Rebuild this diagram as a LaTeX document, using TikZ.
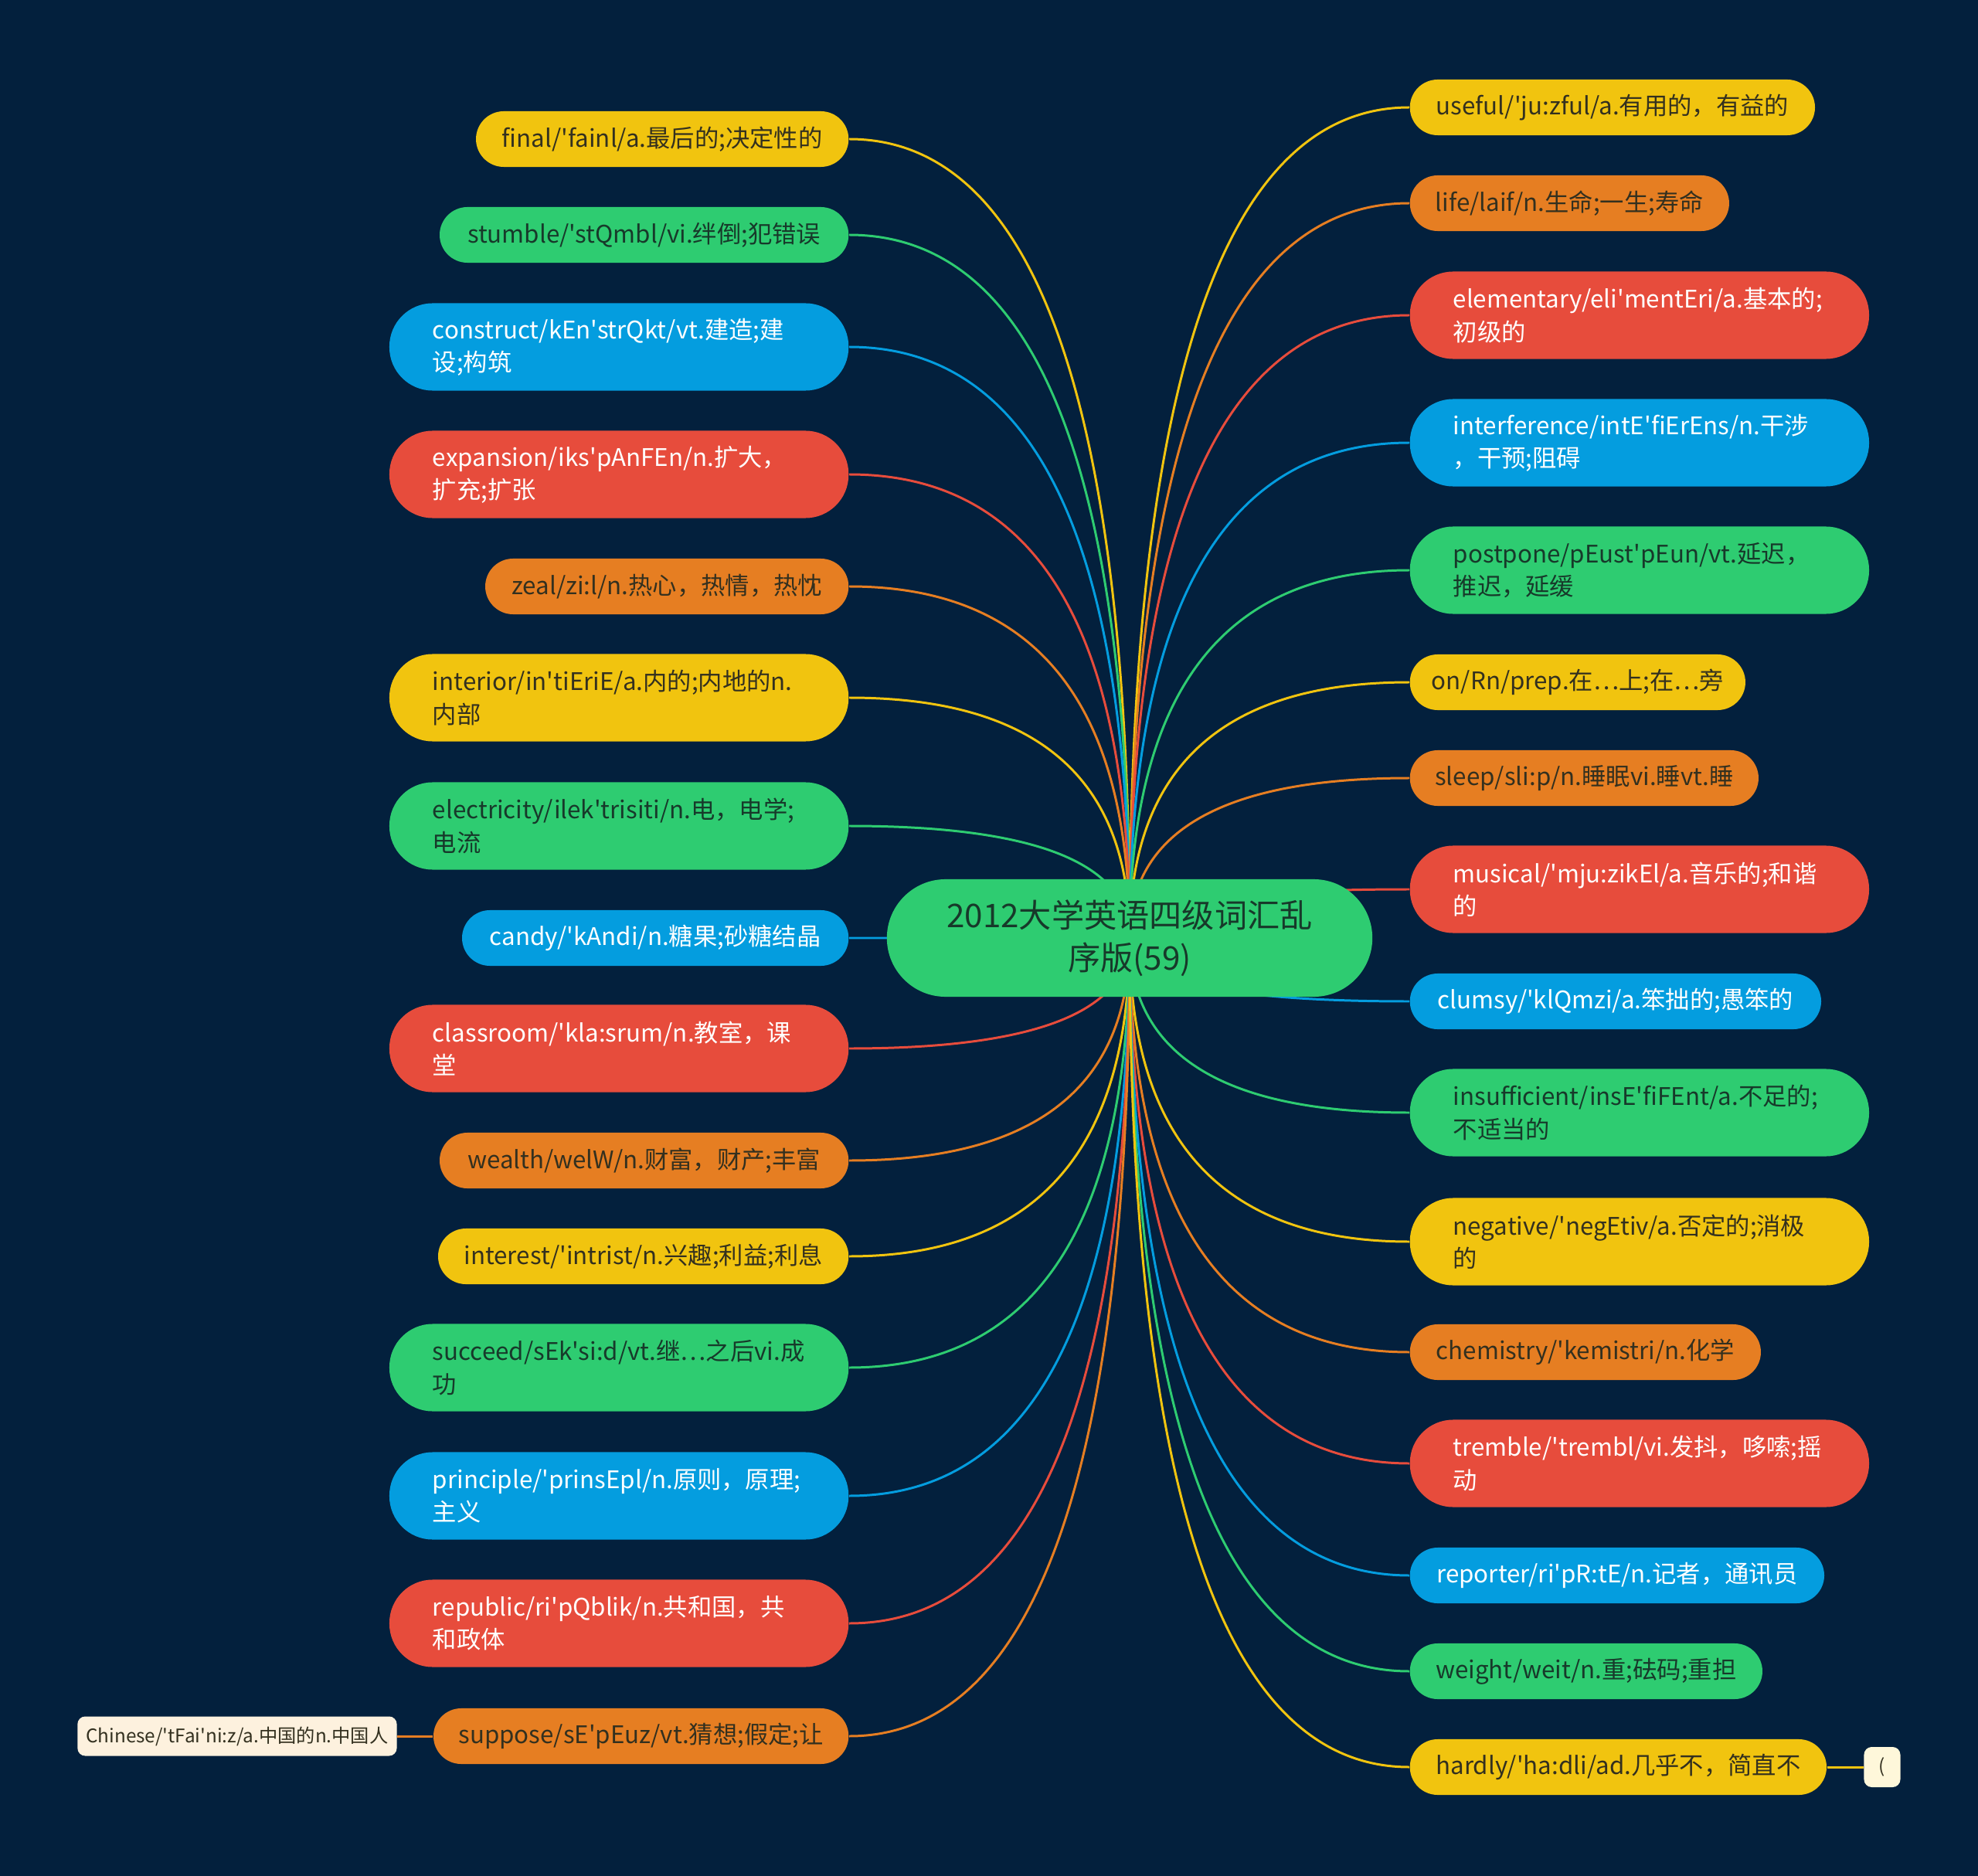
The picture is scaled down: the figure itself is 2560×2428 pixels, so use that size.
\documentclass[tikz,border=0pt]{standalone}
\usepackage{fontspec}
\setmainfont{Noto Sans CJK SC}[Ligatures=TeXOff]
\usepackage{tikz}
\usetikzlibrary{positioning,calc}
\pgfdeclarelayer{bg}
\pgfdeclarelayer{lines}
\pgfsetlayers{bg,lines,main}
\definecolor{bgnavy}{HTML}{03203D}
\definecolor{cyel}{HTML}{F1C40F}
\definecolor{cgrn}{HTML}{2ECC71}
\definecolor{cblu}{HTML}{049DDF}
\definecolor{cred}{HTML}{E74C3C}
\definecolor{corg}{HTML}{E67E22}
\definecolor{ccream}{HTML}{FDF1DE}
\definecolor{clight}{HTML}{FEF7DA}
\definecolor{tdark}{HTML}{33301F}
\definecolor{tgreen}{HTML}{17392A}
\tikzstyle{root}=[rectangle,rounded corners=0.76cm,fill=cgrn,text=tgreen,minimum width=6.28cm,minimum height=1.52cm,align=center,font=\fontsize{12}{15.8}\selectfont]
\tikzstyle{leaf}=[rectangle,rounded corners=0.36cm,minimum height=0.72cm,inner xsep=0.25cm,inner ysep=0pt,font=\fontsize{8.9}{12}\selectfont]
\tikzstyle{longleaf}=[leaf,rounded corners=0.56cm,minimum height=1.13cm,inner xsep=0.56cm,text width=4.82cm,align=left]
\tikzstyle{tag}=[rectangle,rounded corners=0.1cm,minimum height=0.51cm,inner xsep=0.08cm,inner ysep=0pt,text=tdark,font=\fontsize{6.9}{9}\selectfont]
\tikzstyle{ylw}=[fill=cyel,text=tdark]
\tikzstyle{grn}=[fill=cgrn,text=tgreen]
\tikzstyle{blu}=[fill=cblu,text=white]
\tikzstyle{rd}=[fill=cred,text=white]
\tikzstyle{org}=[fill=corg,text=tdark]
\tikzstyle{edge}=[draw,line width=0.85pt]
% curve from the centre of the root, vertical first, then level into the word
\newcommand{\twig}[3]{\draw[edge,#1] (#2) .. controls ($(#2)!2/3!(#2 |- #3)$) and ($(#3)!2/3!(#2 |- #3)$) .. (#3);}

\begin{document}
\begin{tikzpicture}[x=0.01cm,y=-0.01cm]
  \begin{pgfonlayer}{bg}
    \fill[bgnavy] (0,0) rectangle (2560,2428);
  \end{pgfonlayer}
  \useasboundingbox (0,0) rectangle (2560,2428);

  \node[root] (root) at (1462,1214) {2012大学英语四级词汇乱\\序版(59)};

  % left side
  \node[leaf,ylw,anchor=east,minimum width=4.82cm] (final) at (1099,180) {final/'fainl/a.最后的;决定性的};
  \node[leaf,grn,anchor=east,minimum width=5.29cm] (stumble) at (1099,304) {stumble/'stQmbl/vi.绊倒;犯错误};
  \node[longleaf,blu,anchor=east] (construct) at (1099,449) {construct/kEn'strQkt/vt.建造;建\\设;构筑};
  \node[longleaf,rd,anchor=east] (expansion) at (1099,614) {expansion/iks'pAnFEn/n.扩大，\\扩充;扩张};
  \node[leaf,org,anchor=east,minimum width=4.70cm] (zeal) at (1099,759) {zeal/zi:l/n.热心，热情，热忱};
  \node[longleaf,ylw,anchor=east] (interior) at (1099,903) {interior/in'tiEriE/a.内的;内地的n.\\内部};
  \node[longleaf,grn,anchor=east] (electricity) at (1099,1069) {electricity/ilek'trisiti/n.电，电学;\\电流};
  \node[leaf,blu,anchor=east,minimum width=5.00cm] (candy) at (1099,1214) {candy/'kAndi/n.糖果;砂糖结晶};
  \node[longleaf,rd,anchor=east] (classroom) at (1099,1357) {classroom/'kla:srum/n.教室，课\\堂};
  \node[leaf,org,anchor=east,minimum width=5.29cm] (wealth) at (1099,1502) {wealth/welW/n.财富，财产;丰富};
  \node[leaf,ylw,anchor=east,minimum width=5.31cm] (interest) at (1099,1626) {interest/'intrist/n.兴趣;利益;利息};
  \node[longleaf,grn,anchor=east] (succeed) at (1099,1770) {succeed/sEk'si:d/vt.继…之后vi.成\\功};
  \node[longleaf,blu,anchor=east] (principle) at (1099,1936) {principle/'prinsEpl/n.原则，原理;\\主义};
  \node[longleaf,rd,anchor=east] (republic) at (1099,2101) {republic/ri'pQblik/n.共和国，共\\和政体};
  \node[leaf,org,anchor=east,minimum width=5.37cm] (suppose) at (1099,2247) {suppose/sE'pEuz/vt.猜想;假定;让};
  \node[tag,fill=ccream,minimum width=4.13cm,left=0.46cm of suppose] (chinese) {Chinese/'tFai'ni:z/a.中国的n.中国人};

  % right side
  \node[leaf,ylw,anchor=west,minimum width=5.24cm] (useful) at (1824,139) {useful/'ju:zful/a.有用的，有益的};
  \node[leaf,org,anchor=west,minimum width=4.13cm] (life) at (1824,263) {life/laif/n.生命;一生;寿命};
  \node[longleaf,rd,anchor=west] (elementary) at (1824,408) {elementary/eli'mentEri/a.基本的;\\初级的};
  \node[longleaf,blu,anchor=west] (interference) at (1824,573) {interference/intE'fiErEns/n.干涉\\，干预;阻碍};
  \node[longleaf,grn,anchor=west] (postpone) at (1824,738) {postpone/pEust'pEun/vt.延迟，\\推迟，延缓};
  \node[leaf,ylw,anchor=west,minimum width=4.34cm] (on) at (1824,883) {on/Rn/prep.在…上;在…旁};
  \node[leaf,org,anchor=west,minimum width=4.51cm] (sleep) at (1824,1007) {sleep/sli:p/n.睡眠vi.睡vt.睡};
  \node[longleaf,rd,anchor=west] (musical) at (1824,1151) {musical/'mju:zikEl/a.音乐的;和谐\\的};
  \node[leaf,blu,anchor=west,minimum width=5.32cm] (clumsy) at (1824,1296) {clumsy/'klQmzi/a.笨拙的;愚笨的};
  \node[longleaf,grn,anchor=west] (insufficient) at (1824,1440) {insufficient/insE'fiFEnt/a.不足的;\\不适当的};
  \node[longleaf,ylw,anchor=west] (negative) at (1824,1607) {negative/'negEtiv/a.否定的;消极\\的};
  \node[leaf,org,anchor=west,minimum width=4.54cm] (chemistry) at (1824,1750) {chemistry/'kemistri/n.化学};
  \node[longleaf,rd,anchor=west] (tremble) at (1824,1894) {tremble/'trembl/vi.发抖，哆嗦;摇\\动};
  \node[leaf,blu,anchor=west,minimum width=5.36cm] (reporter) at (1824,2039) {reporter/ri'pR:tE/n.记者，通讯员};
  \node[leaf,grn,anchor=west,minimum width=4.56cm] (weight) at (1824,2163) {weight/weit/n.重;砝码;重担};
  \node[leaf,ylw,anchor=west,minimum width=5.39cm] (hardly) at (1824,2287) {hardly/'ha:dli/ad.几乎不，简直不};
  \node[tag,fill=clight,minimum width=0.47cm,minimum height=0.52cm,right=0.47cm of hardly] (paren) {(};

  \begin{pgfonlayer}{lines}
    \twig{cyel}{root.center}{final.east}
    \twig{cgrn}{root.center}{stumble.east}
    \twig{cblu}{root.center}{construct.east}
    \twig{cred}{root.center}{expansion.east}
    \twig{corg}{root.center}{zeal.east}
    \twig{cyel}{root.center}{interior.east}
    \twig{cgrn}{root.center}{electricity.east}
    \twig{cblu}{root.center}{candy.east}
    \twig{cred}{root.center}{classroom.east}
    \twig{corg}{root.center}{wealth.east}
    \twig{cyel}{root.center}{interest.east}
    \twig{cgrn}{root.center}{succeed.east}
    \twig{cblu}{root.center}{principle.east}
    \twig{cred}{root.center}{republic.east}
    \twig{corg}{root.center}{suppose.east}
    \twig{cyel}{root.center}{useful.west}
    \twig{corg}{root.center}{life.west}
    \twig{cred}{root.center}{elementary.west}
    \twig{cblu}{root.center}{interference.west}
    \twig{cgrn}{root.center}{postpone.west}
    \twig{cyel}{root.center}{on.west}
    \twig{corg}{root.center}{sleep.west}
    \twig{cred}{root.center}{musical.west}
    \twig{cblu}{root.center}{clumsy.west}
    \twig{cgrn}{root.center}{insufficient.west}
    \twig{cyel}{root.center}{negative.west}
    \twig{corg}{root.center}{chemistry.west}
    \twig{cred}{root.center}{tremble.west}
    \twig{cblu}{root.center}{reporter.west}
    \twig{cgrn}{root.center}{weight.west}
    \twig{cyel}{root.center}{hardly.west}
    \draw[edge,corg] (suppose.west) -- (chinese.east);
    \draw[edge,cyel] (hardly.east) -- (paren.west);
  \end{pgfonlayer}
\end{tikzpicture}
\end{document}
